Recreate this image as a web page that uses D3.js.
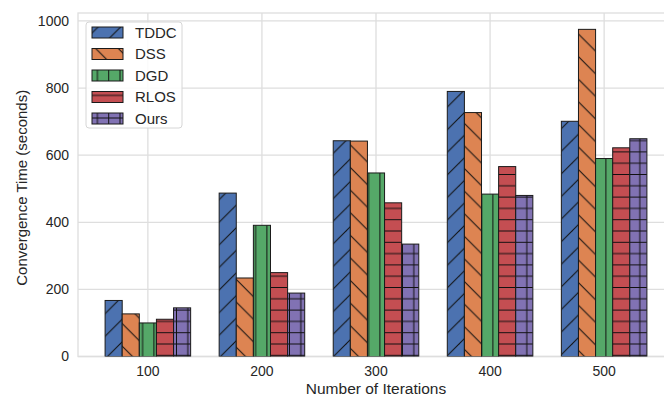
<!DOCTYPE html>
<html>
<head>
<meta charset="utf-8">
<script src="https://cdn.jsdelivr.net/npm/d3@7"></script>
<style>
  html, body { margin: 0; padding: 0; background: #fff; }
  svg { display: block; font-family: "Liberation Sans", Arial, sans-serif; }
</style>
</head>
<body>
<svg id="chart" width="664" height="399"></svg>
<script>
const categories = ["100", "200", "300", "400", "500"];
const seriesNames = ["TDDC", "DSS", "DGD", "RLOS", "Ours"];
const TDDC = [167, 487, 643, 790, 701];
const DSS  = [127, 234, 642, 727, 975];
const DGD  = [100, 391, 547, 484, 590];
const RLOS = [111, 250, 458, 566, 622];
const Ours = [145, 189, 335, 480, 649];
const yTicks = [0, 200, 400, 600, 800, 1000];
const colors = ["#4C72B0", "#DD8452", "#55A868", "#C44E52", "#8172B3"];
const hatches = ["/", "\\", "|", "-", "+"];

const seriesValues = [TDDC, DSS, DGD, RLOS, Ours];

const svg = d3.select("#chart");
const m = { left: 78, top: 13, right: 674, bottom: 356.5 };
const textColor = "#262626";
const gridColor = "#dedede";

const x = d3.scaleBand().domain(categories).range([m.left, m.right])
  .paddingInner(0.25).paddingOuter(0.2375);
const xs = d3.scaleBand().domain(seriesNames).range([0, x.bandwidth()]).padding(0);
const y = d3.scaleLinear().domain([0, 975 * 1.05]).range([m.bottom, m.top]);

// hatch patterns
const s = 11.3;
const defs = svg.append("defs");
hatches.forEach((h, i) => {
  const p = defs.append("pattern")
    .attr("id", "hatch" + i)
    .attr("patternUnits", "userSpaceOnUse")
    .attr("x", 7).attr("y", 5)
    .attr("width", 2 * s).attr("height", 2 * s);
  p.append("rect").attr("width", 2 * s).attr("height", 2 * s).attr("fill", colors[i]);
  const L = (x1, y1, x2, y2) => p.append("line")
    .attr("x1", x1).attr("y1", y1).attr("x2", x2).attr("y2", y2)
    .attr("stroke", "#111").attr("stroke-width", 1);
  const t = 2 * s;
  if (h === "/") {
    L(-t, t, t, -t); L(0, 2 * t, 2 * t, 0); L(t, 2 * t, 2 * t, t);
    L(-1, t + 1, t + 1, -1);
  } else if (h === "\\") {
    L(-1, -1, t + 1, t + 1); L(-t, 0, t, 2 * t); L(0, -t, 2 * t, t);
  } else if (h === "|") {
    L(0, 0, 0, t); L(s, 0, s, t); L(t, 0, t, t);
  } else if (h === "-") {
    L(0, 0, t, 0); L(0, s, t, s); L(0, t, t, t);
  } else if (h === "+") {
    L(0, 0, 0, t); L(s, 0, s, t); L(t, 0, t, t);
    L(0, 0, t, 0); L(0, s, t, s); L(0, t, t, t);
  }
});

defs.append("clipPath").attr("id", "plotclip").append("rect")
  .attr("x", m.left).attr("y", m.top)
  .attr("width", m.right - m.left).attr("height", m.bottom - m.top);

// grid
const g = svg.append("g");
g.selectAll("line.hgrid").data(yTicks).join("line")
  .attr("class", "hgrid")
  .attr("x1", m.left).attr("x2", m.right)
  .attr("y1", d => y(d)).attr("y2", d => y(d))
  .attr("stroke", gridColor).attr("stroke-width", 1.3);
g.selectAll("line.vgrid").data(categories).join("line")
  .attr("class", "vgrid")
  .attr("x1", d => x(d) + x.bandwidth() / 2).attr("x2", d => x(d) + x.bandwidth() / 2)
  .attr("y1", m.top).attr("y2", m.bottom)
  .attr("stroke", gridColor).attr("stroke-width", 1.3);

svg.append("rect")
  .attr("x", m.left).attr("y", m.top)
  .attr("width", m.right - m.left).attr("height", m.bottom - m.top)
  .attr("fill", "none").attr("stroke", gridColor).attr("stroke-width", 1.3);

// bars
const barsG = svg.append("g").attr("clip-path", "url(#plotclip)");
seriesNames.forEach((name, si) => {
  barsG.append("g").selectAll("rect")
    .data(seriesValues[si].map((v, ci) => ({ cat: categories[ci], v })))
    .join("rect")
    .attr("x", d => x(d.cat) + xs(name))
    .attr("y", d => y(d.v))
    .attr("width", xs.bandwidth())
    .attr("height", d => y(0) - y(d.v))
    .attr("fill", "url(#hatch" + si + ")")
    .attr("stroke", "#1a1a1a").attr("stroke-width", 1);
});

// axes
const yAxis = svg.append("g").attr("transform", `translate(${m.left},0)`)
  .call(d3.axisLeft(y).tickValues(yTicks).tickFormat(d3.format("d")).tickSize(0).tickPadding(9));
const xAxis = svg.append("g").attr("transform", `translate(0,${m.bottom})`)
  .call(d3.axisBottom(x).tickSize(0).tickPadding(10));
[yAxis, xAxis].forEach(a => {
  a.select(".domain").remove();
  a.selectAll("text").attr("fill", textColor).style("font-size", "14px")
    .style("font-family", "'Liberation Sans', Arial, sans-serif");
});

// axis titles
svg.append("text")
  .attr("x", 376).attr("y", 394)
  .attr("text-anchor", "middle").attr("fill", textColor)
  .style("font-size", "15.5px").text("Number of Iterations");
svg.append("text")
  .attr("transform", `translate(27,${(m.top + m.bottom) / 2 + 3}) rotate(-90)`)
  .attr("text-anchor", "middle").attr("fill", textColor)
  .style("font-size", "15px").text("Convergence Time (seconds)");

// legend
const lg = svg.append("g");
lg.append("rect")
  .attr("x", 86).attr("y", 22).attr("width", 96).attr("height", 106)
  .attr("rx", 3).attr("fill", "#fff").attr("fill-opacity", 0.85)
  .attr("stroke", "#d6d6d6").attr("stroke-width", 1);
seriesNames.forEach((name, i) => {
  const cy = 32.5 + i * 21.5;
  lg.append("rect")
    .attr("x", 92).attr("y", cy - 5.5).attr("width", 31).attr("height", 11)
    .attr("fill", "url(#hatch" + i + ")")
    .attr("stroke", "#1a1a1a").attr("stroke-width", 1);
  lg.append("text")
    .attr("x", 135).attr("y", cy + 5.3)
    .attr("fill", textColor).style("font-size", "15px").text(name);
});
</script>
</body>
</html>
